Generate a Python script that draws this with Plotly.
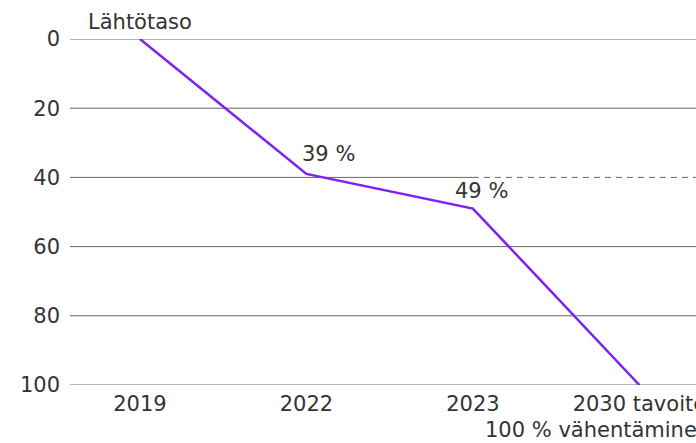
import plotly.graph_objects as go

categories = ["2019", "2022", "2023", "2030 tavoite<br>100 % vähentäminen"]
values = [0, 39, 49, 100]
point_labels = ["Lähtötaso", "39 %", "49 %", None]
y_ticks = [0, 20, 40, 60, 80, 100]
dashed_level = 40

x_idx = list(range(len(categories)))
x_range = [-0.42, 3.34]

# first line of each category goes on the axis; an extra second line is drawn below it
tick_first = [c.split("<br>")[0] for c in categories]
tick_second = [c.split("<br>")[1] if "<br>" in c else None for c in categories]

fig = go.Figure()
fig.add_trace(go.Scatter(
    x=x_idx, y=values, mode="lines",
    line=dict(color="#7c22f2", width=2.5),
    cliponaxis=False, hoverinfo="skip", showlegend=False,
))

grid_color = "#666666"
for t in y_ticks:
    if t == dashed_level:
        fig.add_shape(type="line", xref="x", yref="y", x0=x_range[0], x1=x_idx[2], y0=t, y1=t,
                      line=dict(color=grid_color, width=1), layer="below")
        fig.add_shape(type="line", xref="x", yref="y", x0=x_idx[2], x1=x_range[1], y0=t, y1=t,
                      line=dict(color=grid_color, width=1, dash="6px,5px"), layer="below")
    else:
        fig.add_shape(type="line", xref="x", yref="y", x0=x_range[0], x1=x_range[1], y0=t, y1=t,
                      line=dict(color=grid_color, width=1), layer="below")

offsets = [(0, -17), (22, -20), (9, -18)]
for i, lab in enumerate(point_labels):
    if lab is None:
        continue
    dx, dy = offsets[i]
    fig.add_annotation(x=x_idx[i], y=values[i], text=lab, showarrow=False,
                       xshift=dx, yshift=-dy, font=dict(size=21, color="#333333"))

for i, sub in enumerate(tick_second):
    if sub is None:
        continue
    fig.add_annotation(x=x_idx[i], xref="x", y=0, yref="paper", text=sub, showarrow=False,
                       xanchor="left", yanchor="middle", xshift=-156, yshift=-45,
                       font=dict(size=21, color="#333333"))

fig.update_layout(
    width=696, height=443,
    margin=dict(l=70, r=0, t=39, b=58, autoexpand=False),
    paper_bgcolor="white", plot_bgcolor="white",
    font=dict(family="DejaVu Sans", size=21, color="#333333"),
    showlegend=False,
    xaxis=dict(range=x_range, tickmode="array", tickvals=x_idx, ticktext=tick_first,
               showgrid=False, zeroline=False, showline=False, ticks="", fixedrange=True,
               automargin=False, ticklabeloverflow="allow", ticklabelstandoff=4),
    yaxis=dict(range=[100, 0], tickmode="array", tickvals=y_ticks, showgrid=False,
               zeroline=False, showline=False, ticks="", ticklabelstandoff=9, fixedrange=True,
               automargin=False),
)

fig.write_html(
    "out.html",
    config={"displayModeBar": False},
    post_script="document.body.style.margin='0';document.body.style.overflow='hidden';",
)
